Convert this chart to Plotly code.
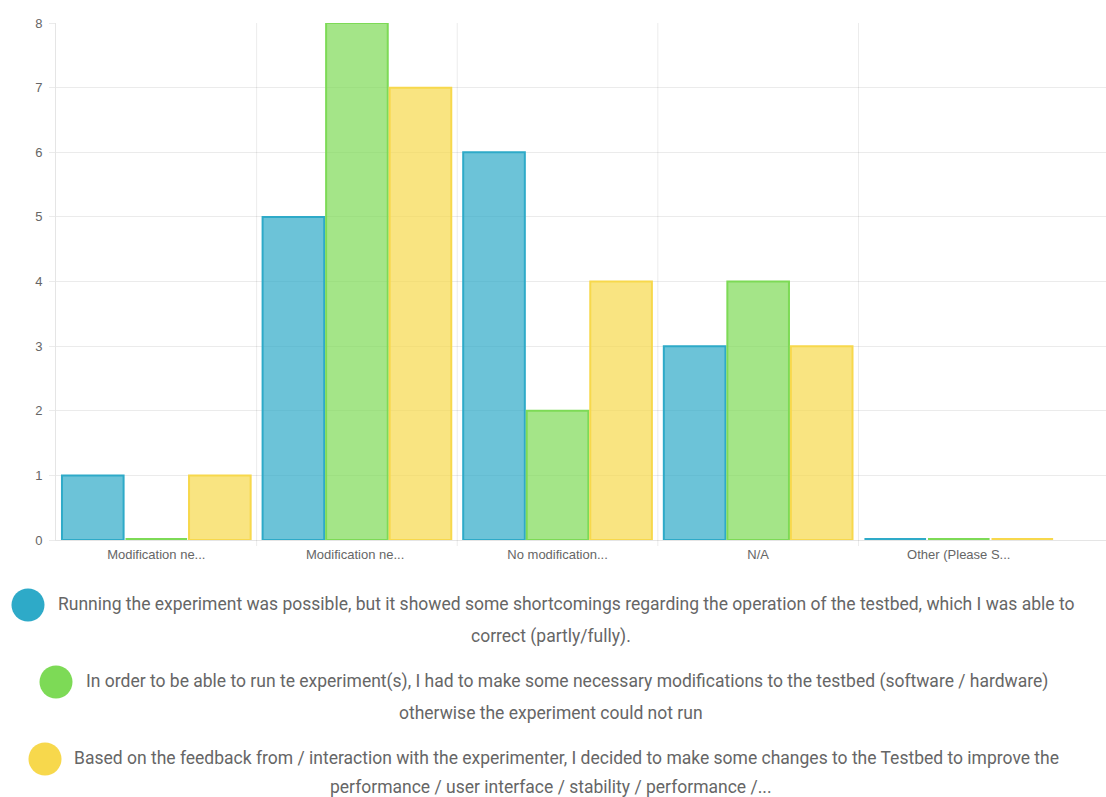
import plotly.graph_objects as go

# Survey answers per category, one series per response option
categories = ["Modification ne...", "Modification ne... ", "No modification...", "N/A", "Other (Please S..."]
running_possible = [1, 5, 6, 3, 0]
had_to_modify = [0, 8, 2, 4, 0]
decided_changes = [1, 7, 4, 3, 0]

series_labels = [
    "Running the experiment was possible, but it showed some shortcomings regarding the operation of the testbed, which I was able to",
    "In order to be able to run te experiment(s), I had to make some necessary modifications to the testbed (software / hardware)",
    "Based on the feedback from / interaction with the experimenter, I decided to make some changes to the Testbed to improve the",
]
series_labels_2 = [
    "correct (partly/fully).",
    "otherwise the experiment could not run",
    "performance / user interface / stability / performance /...",
]

border_colors = ["rgb(46,170,200)", "rgb(125,218,86)", "rgb(247,216,76)"]
fill_colors = ["rgba(46,170,200,0.7)", "rgba(125,218,86,0.7)", "rgba(247,216,76,0.7)"]

W, H = 1106, 797
L, R, T, B = 56, 0, 23, 257
plot_w = W - L - R
plot_h = H - T - B

# thickness (in y units) of the border stroke shown for zero-height bars
ZERO_STROKE = 0.045


def px_x(px):
    return (px - L) / plot_w


def px_y(py):
    return (H - B - py) / plot_h


fig = go.Figure()
for k, (vals, fc, bc, name) in enumerate(zip([running_possible, had_to_modify, decided_changes],
                                             fill_colors, border_colors, series_labels)):
    group = f"s{k}"
    fig.add_trace(go.Bar(
        x=categories, y=[v if v != 0 else None for v in vals], name=name, offsetgroup=group,
        marker=dict(color=fc, line=dict(color=bc, width=2)),
        showlegend=False, cliponaxis=False,
    ))
    # zero-valued bars still show their border as a flat stroke on the axis
    fig.add_trace(go.Bar(
        x=categories,
        y=[ZERO_STROKE if v == 0 else None for v in vals],
        base=-ZERO_STROKE / 3, offsetgroup=group, name=name,
        marker=dict(color=bc, line=dict(width=0)),
        showlegend=False, hovertemplate="%{x}: 0<extra></extra>", cliponaxis=False,
    ))

# vertical grid lines at the inner category boundaries
for i in range(1, len(categories)):
    fig.add_shape(type="line", xref="x", yref="paper",
                  x0=i - 0.5, x1=i - 0.5, y0=-6 / plot_h, y1=1.0,
                  line=dict(color="rgba(0,0,0,0.08)", width=1), layer="below")

# custom legend: colored circles + wrapped centered text
legend_rows = [
    # circle center x, first-line text start x, line1 y, line2 center x, line2 y
    (28, 57, 604, 551, 636),
    (56, 85, 681, 551, 713),
    (45, 73, 758, 551, 787),
]
for (cx, tx, y1, cx2, y2), col, t1, t2 in zip(legend_rows, border_colors, series_labels, series_labels_2):
    fig.add_shape(type="circle", xref="paper", yref="paper",
                  xsizemode="pixel", ysizemode="pixel",
                  xanchor=px_x(cx), yanchor=px_y(y1 + 1),
                  x0=-16.5, x1=16.5, y0=-16.5, y1=16.5,
                  fillcolor=col, line=dict(width=0))
    fig.add_annotation(xref="paper", yref="paper", x=px_x(tx), y=px_y(y1),
                       xanchor="left", yanchor="middle", text=t1, showarrow=False,
                       borderpad=0, font=dict(family="Roboto", size=17.5, color="#666"))
    fig.add_annotation(xref="paper", yref="paper", x=px_x(cx2), y=px_y(y2),
                       xanchor="center", yanchor="middle", text=t2, showarrow=False,
                       borderpad=0, font=dict(family="Roboto", size=17.5, color="#666"))

fig.update_layout(
    width=W, height=H,
    margin=dict(l=L, r=R, t=T, b=B, pad=0),
    paper_bgcolor="white", plot_bgcolor="white",
    barmode="group", bargap=0.05, bargroupgap=0.03,
    font=dict(family="Liberation Sans, Arial", size=12, color="#666"),
    xaxis=dict(
        range=[-0.5, 4.5 + 47 / 201], showgrid=False, zeroline=False,
        showline=True, linecolor="rgba(0,0,0,0.1)", linewidth=1,
        ticks="outside", ticklen=2, tickcolor="rgba(0,0,0,0)",
        tickfont=dict(family="Liberation Sans, Arial", size=13, color="#666"),
        layer="below traces", fixedrange=True,
    ),
    yaxis=dict(
        range=[0, 8], dtick=1, showgrid=True, gridcolor="rgba(0,0,0,0.08)",
        zeroline=False, showline=True, linecolor="rgba(0,0,0,0.1)", linewidth=1,
        ticks="outside", ticklen=6, tickcolor="rgba(0,0,0,0.08)",
        tickfont=dict(family="Liberation Sans, Arial", size=13, color="#666"),
        ticklabelstandoff=4, layer="below traces", fixedrange=True,
    ),
)

fig.write_html("out.html")
